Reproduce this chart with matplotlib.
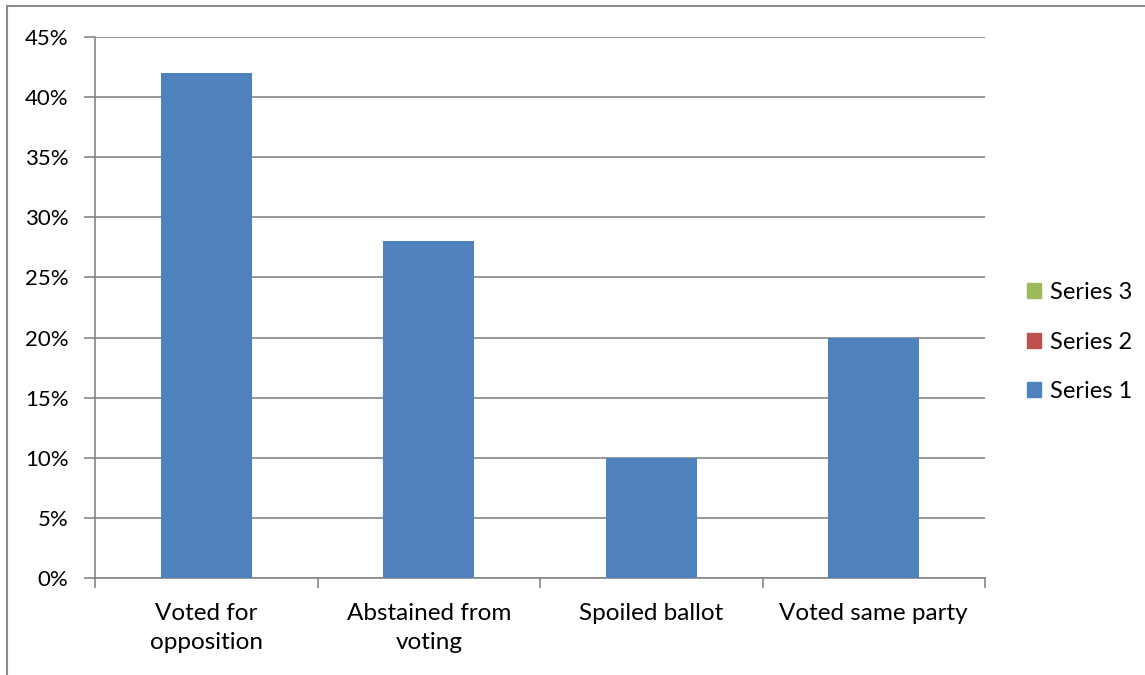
import matplotlib.pyplot as plt
from matplotlib.lines import Line2D
from matplotlib.patches import Patch
from matplotlib.ticker import PercentFormatter

categories = ["Voted for\nopposition", "Abstained from\nvoting", "Spoiled ballot", "Voted same party"]
series1 = [0.42, 0.28, 0.10, 0.20]
series2 = []
series3 = []
series_names = ["Series 1", "Series 2", "Series 3"]
series_colors = ['#4F81BD', '#C0504D', '#9BBB59']
yticks = [0, 0.05, 0.10, 0.15, 0.20, 0.25, 0.30, 0.35, 0.40, 0.45]

plt.rcParams['font.family'] = ['Lato', 'DejaVu Sans']

fig = plt.figure(figsize=(11.45, 6.75), dpi=100)
ax = fig.add_axes([95/1145, 1-578/675, 890/1145, 541/675])

grid_c = '#868686'
x = list(range(len(categories)))
for vals, c in zip([series1, series2, series3], series_colors):
    ax.bar(x[:len(vals)], vals, width=0.41, color=c, zorder=3)

ax.set_xlim(-0.5, len(categories) - 0.5)
ax.set_ylim(0, 0.45)
ax.set_yticks(yticks)
ax.yaxis.set_major_formatter(PercentFormatter(1.0, decimals=0))
ax.grid(axis='y', color=grid_c, linewidth=1.2, zorder=0)

ax.set_xticks(x)
ax.set_xticklabels(categories, fontsize=17.5, linespacing=1.45)
ax.set_xticks([i - 0.5 for i in range(len(categories) + 1)], minor=True)
ax.tick_params(axis='x', which='major', length=0, pad=18)
ax.tick_params(axis='x', which='minor', length=7, width=1.2, color=grid_c, direction='out')
ax.tick_params(axis='y', length=8, width=1.2, color=grid_c, labelsize=16, pad=11)

for s in ['top', 'right']:
    ax.spines[s].set_visible(False)
for s in ['left', 'bottom']:
    ax.spines[s].set_color(grid_c)
    ax.spines[s].set_linewidth(1.2)

handles = [Patch(color=c, label=n) for n, c in zip(series_names, series_colors)][::-1]
fig.legend(handles=handles, loc='center left',
           bbox_to_anchor=(1006/1145, 1-342/675), frameon=False, fontsize=17,
           handlelength=0.6, handleheight=0.6, handletextpad=0.35, labelspacing=1.2)

# outer chart frame (right and bottom edges are cut off)
fig.add_artist(Line2D([7/1145, 7/1145], [0, 1-6/675], color='#8c8c8c', linewidth=1.5))
fig.add_artist(Line2D([7/1145, 1], [1-6/675, 1-6/675], color='#8c8c8c', linewidth=1.5))

fig.savefig('out.png', dpi=100)
